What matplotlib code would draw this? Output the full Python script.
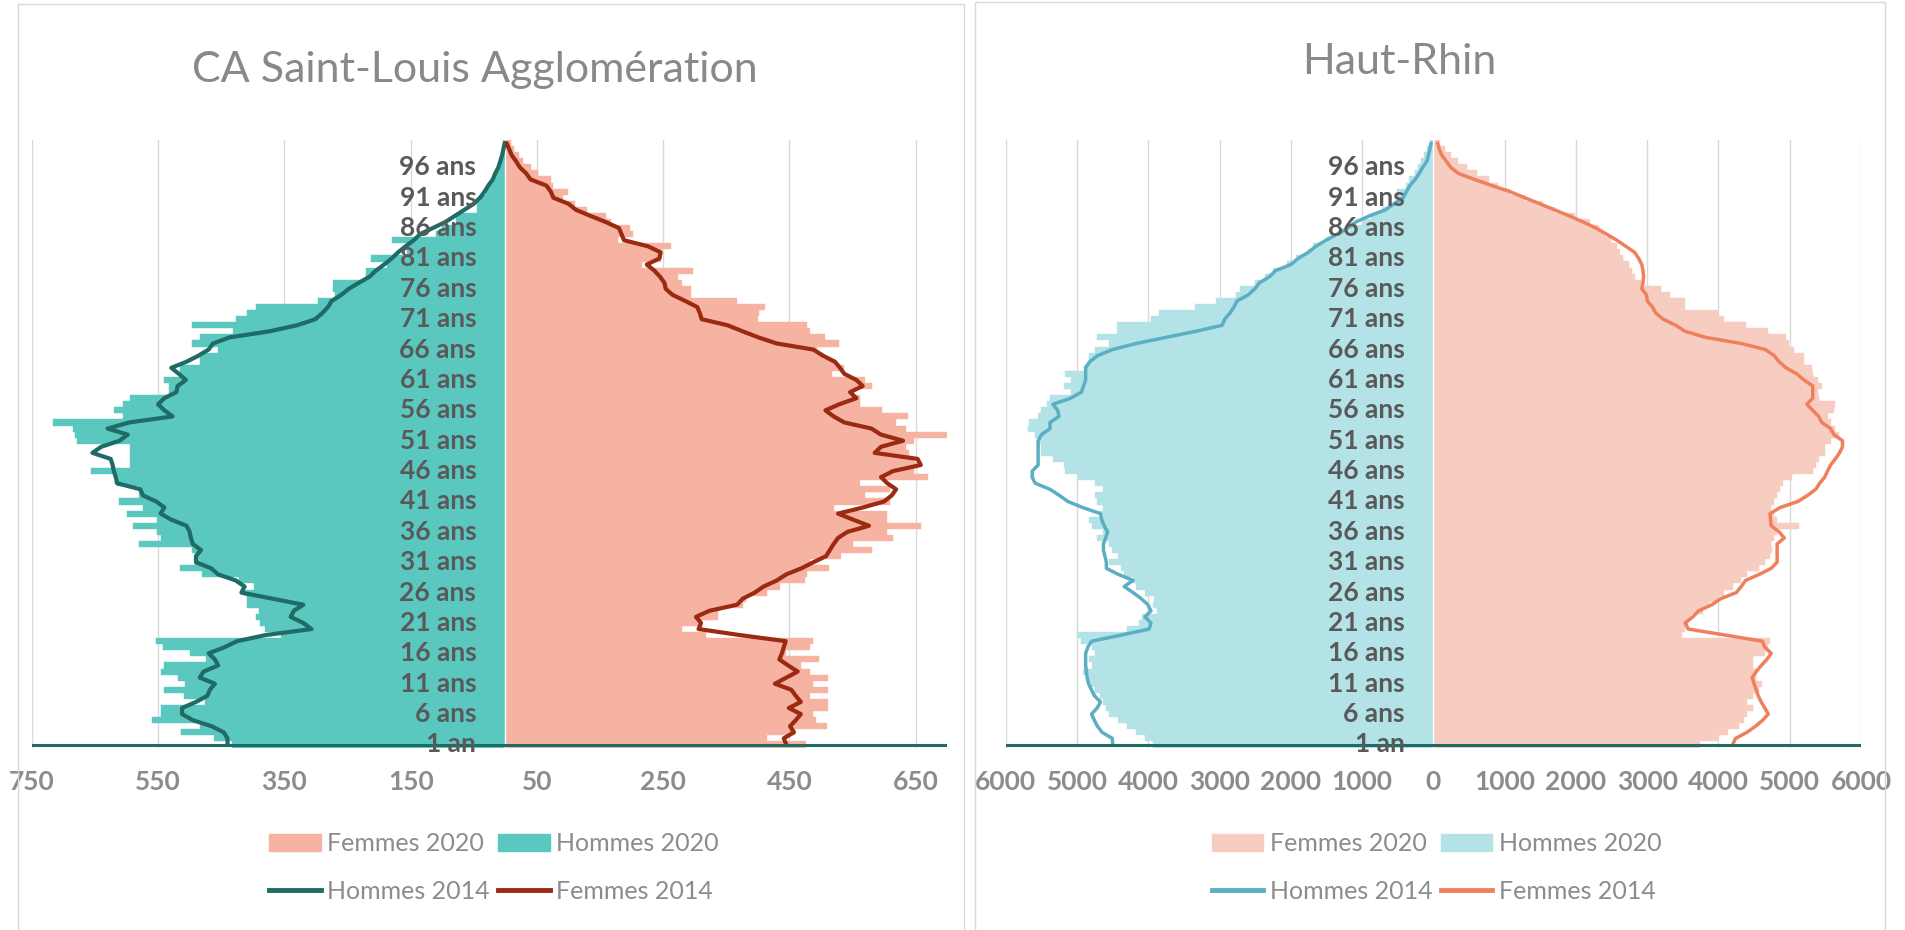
import matplotlib.pyplot as plt
from matplotlib.patches import Rectangle, Patch
from matplotlib.lines import Line2D

plt.rcParams['font.family'] = ['Lato', 'DejaVu Sans']

ages = list(range(1, 101))

# CA Saint-Louis Agglomération
stl_hommes_2020 = [433, 462, 513, 484, 559, 545, 545, 475, 509, 540, 508, 518, 545, 540, 474, 499, 542, 553, 355, 380,
                   388, 395, 390, 409, 409, 412, 398, 422, 480, 516, 492, 492, 497, 581, 546, 552, 589, 552, 599, 574,
                   612, 581, 581, 615, 615, 656, 594, 594, 594, 595, 678, 681, 685, 716, 605, 620, 605, 594, 533, 533,
                   540, 515, 515, 484, 484, 455, 497, 484, 431, 497, 426, 409, 395, 296, 270, 273, 273, 220, 220, 187,
                   213, 155, 155, 180, 110, 100, 78, 78, 45, 45, 38, 30, 28, 20, 15, 12, 10, 7, 5, 4]
stl_femmes_2020 = [476, 415, 458, 509, 492, 487, 511, 511, 483, 511, 487, 511, 483, 468, 497, 444, 483, 487, 318, 280,
                   308, 337, 337, 376, 381, 415, 435, 474, 478, 512, 483, 532, 580, 551, 614, 605, 658, 605, 605, 521,
                   609, 570, 609, 561, 669, 648, 653, 648, 640, 634, 648, 701, 634, 619, 638, 597, 561, 561, 551, 580,
                   570, 517, 537, 522, 503, 493, 529, 507, 483, 478, 400, 401, 411, 367, 294, 294, 280, 273, 297, 217,
                   246, 248, 263, 178, 202, 197, 168, 159, 130, 110, 91, 99, 75, 72, 52, 40, 28, 21, 14, 9]
stl_hommes_2014 = [440, 440, 446, 465, 495, 512, 512, 490, 472, 468, 460, 484, 478, 455, 460, 470, 445, 425, 380, 307,
                   320, 340, 335, 320, 369, 418, 413, 427, 455, 466, 490, 490, 482, 495, 498, 500, 505, 529, 546, 540,
                   553, 574, 578, 615, 617, 620, 622, 625, 654, 640, 611, 598, 630, 596, 527, 540, 550, 540, 521, 519,
                   506, 517, 529, 505, 486, 470, 463, 437, 374, 330, 301, 290, 281, 275, 260, 248, 232, 215, 205, 192,
                   180, 170, 158, 145, 135, 115, 95, 80, 65, 50, 40, 33, 27, 20, 16, 11, 8, 5, 3, 1]
stl_femmes_2014 = [445, 441, 457, 451, 460, 468, 449, 468, 460, 453, 427, 445, 463, 448, 434, 438, 441, 444, 372, 306,
                   310, 302, 323, 367, 376, 395, 409, 430, 445, 469, 488, 508, 514, 520, 527, 542, 576, 551, 527, 566,
                   600, 612, 619, 605, 595, 614, 658, 653, 585, 595, 630, 595, 580, 537, 520, 507, 529, 556, 546, 566,
                   556, 537, 530, 522, 503, 488, 430, 401, 376, 352, 311, 308, 304, 285, 265, 254, 252, 245, 236, 224,
                   244, 246, 226, 188, 184, 180, 159, 135, 112, 100, 76, 72, 65, 40, 33, 23, 17, 10, 6, 2]

# Haut-Rhin
hr_hommes_2020 = [3940, 4048, 4173, 4298, 4423, 4548, 4590, 4631, 4673, 4756, 4840, 4840, 4923, 4798, 4840, 4756, 4798,
                  4940, 5006, 4298, 4132, 4090, 3882, 3940, 3923, 4048, 4173, 4215, 4340, 4382, 4548, 4423, 4507, 4548,
                  4715, 4631, 4798, 4840, 4673, 4631, 4715, 4756, 4631, 4756, 4990, 5173, 5190, 5340, 5506, 5506, 5548,
                  5590, 5690, 5673, 5548, 5506, 5423, 5381, 5090, 5190, 5090, 5173, 4900, 4840, 4840, 4756, 4548, 4715,
                  4440, 4440, 3965, 3857, 3340, 3049, 2774, 2716, 2507, 2366, 2257, 2049, 1924, 1758, 1691, 1508, 1341,
                  1175, 1008, 883, 716, 550, 491, 508, 383, 342, 258, 217, 175, 133, 92, 50]
hr_femmes_2020 = [3740, 3990, 4140, 4282, 4365, 4407, 4490, 4407, 4490, 4573, 4615, 4532, 4532, 4490, 4490, 4657, 4698,
                  4723, 3490, 3532, 3574, 3615, 3782, 3865, 3990, 4073, 4198, 4323, 4407, 4573, 4657, 4723, 4757, 4740,
                  4782, 4823, 5131, 4823, 4782, 4740, 4782, 4823, 4865, 4906, 5031, 5323, 5365, 5406, 5490, 5490, 5573,
                  5698, 5640, 5573, 5531, 5615, 5640, 5406, 5390, 5448, 5390, 5323, 5306, 5198, 5198, 5056, 4990, 4948,
                  4698, 4390, 4073, 3990, 3532, 3532, 3324, 3199, 2907, 2824, 2782, 2741, 2657, 2616, 2574, 2491, 2407,
                  2324, 2199, 1991, 1699, 1533, 1283, 1075, 908, 783, 616, 475, 342, 242, 158, 92]
hr_hommes_2014 = [4500, 4507, 4650, 4715, 4760, 4798, 4720, 4673, 4756, 4800, 4840, 4860, 4870, 4881, 4881, 4881, 4850,
                  4798, 4382, 3990, 3965, 4048, 3965, 4007, 4100, 4215, 4340, 4215, 4423, 4590, 4590, 4610, 4631, 4631,
                  4600, 4573, 4620, 4656, 4673, 4923, 5131, 5250, 5381, 5590, 5631, 5631, 5548, 5548, 5548, 5548, 5548,
                  5500, 5381, 5381, 5256, 5273, 5340, 5090, 4940, 4910, 4881, 4881, 4881, 4823, 4715, 4507, 4173, 3757,
                  3340, 2965, 2930, 2857, 2800, 2757, 2600, 2507, 2441, 2300, 2216, 2000, 1900, 1758, 1650, 1508, 1350,
                  1200, 1091, 900, 675, 550, 425, 380, 330, 258, 200, 150, 92, 70, 50, 33]
hr_femmes_2014 = [4200, 4240, 4400, 4520, 4620, 4698, 4650, 4600, 4557, 4530, 4500, 4473, 4530, 4600, 4680, 4740, 4650,
                  4615, 4100, 3574, 3532, 3640, 3720, 3907, 4032, 4250, 4320, 4380, 4573, 4740, 4823, 4823, 4823, 4823,
                  4923, 4850, 4740, 4730, 4723, 4865, 5115, 5250, 5365, 5420, 5490, 5530, 5573, 5640, 5698, 5740, 5740,
                  5620, 5573, 5450, 5406, 5323, 5240, 5323, 5323, 5323, 5200, 5100, 4948, 4850, 4782, 4657, 4323, 3824,
                  3532, 3400, 3224, 3120, 3074, 3000, 2990, 2924, 2940, 2949, 2940, 2924, 2880, 2824, 2700, 2574, 2430,
                  2282, 2100, 1908, 1700, 1491, 1280, 1075, 820, 575, 350, 242, 180, 117, 80, 58]

stl_ticks = [-750, -550, -350, -150, 50, 250, 450, 650]
hr_ticks = [-6000, -5000, -4000, -3000, -2000, -1000, 0, 1000, 2000, 3000, 4000, 5000, 6000]

W, H = 1906, 930
fig = plt.figure(figsize=(W / 100, H / 100), dpi=100)

# panel frames
fig.add_artist(Rectangle((18 / W, -0.01), (964 - 18) / W, 1.01 - 4 / H, transform=fig.transFigure,
                         fill=False, edgecolor='#D9D9D9', lw=1))
fig.add_artist(Rectangle((975 / W, -0.01), (1885 - 975) / W, 1.01 - 2 / H, transform=fig.transFigure,
                         fill=False, edgecolor='#D9D9D9', lw=1))


def pyramid(ax, hommes20, femmes20, hommes14, femmes14, cols, xlim, ticks, label_x, lw):
    ax.barh(ages, femmes20, height=1.0, color=cols[0], edgecolor=cols[0], linewidth=0.3, zorder=2)
    ax.barh(ages, [-v for v in hommes20], height=1.0, color=cols[1], edgecolor=cols[1], linewidth=0.3, zorder=2)
    ax.axvline(0, color='white', lw=1, zorder=3)
    ax.plot([-v for v in hommes14], ages, color=cols[2], lw=lw, zorder=4, solid_capstyle='round')
    ax.plot(femmes14, ages, color=cols[3], lw=lw, zorder=4, solid_capstyle='round')
    ax.axhline(0.95, color='#1F6B65', lw=2.2, zorder=5)
    ax.set_xlim(*xlim)
    ax.set_ylim(0.5, 100.5)
    ax.set_xticks(ticks)
    ax.set_xticklabels([str(abs(t)) for t in ticks])
    ax.set_yticks([])
    ax.grid(axis='x', color='#D9D9D9', lw=1)
    ax.set_axisbelow(True)
    for s in ax.spines.values():
        s.set_visible(False)
    ax.tick_params(axis='x', length=0, pad=16, labelsize=19, labelcolor='#8C8C8C')
    for t in ax.get_xticklabels():
        t.set_fontweight('bold')
    for a in range(1, 101, 5):
        txt = '1 an' if a == 1 else f'{a} ans'
        ax.text(label_x, a, txt, ha='right', va='center', fontsize=19, fontweight='bold',
                color='#595959', zorder=6, clip_on=False)


ax1 = fig.add_axes([31.8 / W, 182.5 / H, 915.5 / W, 607.5 / H])
stl_cols = ['#F6B3A1', '#5BC8C0', '#1F6B65', '#9C2A12']
pyramid(ax1, stl_hommes_2020, stl_femmes_2020, stl_hommes_2014, stl_femmes_2014,
        stl_cols, (-750, 700), stl_ticks, -46, 3)

ax2 = fig.add_axes([1005.9 / W, 182.5 / H, 855.1 / W, 607.5 / H])
hr_cols = ['#F8CDC1', '#B3E3E6', '#5BAEC3', '#F0805D']
pyramid(ax2, hr_hommes_2020, hr_femmes_2020, hr_hommes_2014, hr_femmes_2014,
        hr_cols, (-6000, 6000), hr_ticks, -407, 2.5)

fig.text(474.5 / W, 1 - 70 / H, 'CA Saint-Louis Agglomération', ha='center', va='center',
         fontsize=31, color='#898989')
fig.text(1399 / W, 1 - 62 / H, 'Haut-Rhin', ha='center', va='center', fontsize=31, color='#898989')


def add_legend(cols, cx):
    handles = [Patch(color=cols[0]), Line2D([], [], color=cols[2], lw=3.5),
               Patch(color=cols[1]), Line2D([], [], color=cols[3], lw=3.5)]
    labels = ['Femmes 2020', 'Hommes 2014', 'Hommes 2020', 'Femmes 2014']
    leg = fig.legend(handles, labels, ncol=2, loc='center', bbox_to_anchor=(cx, 62.5 / H),
                     frameon=False, fontsize=18, labelcolor='#8C8C8C', handlelength=2.05,
                     handleheight=0.65, handletextpad=0.25, columnspacing=0.35, labelspacing=1.0)
    return leg


add_legend(stl_cols, 494 / W)
add_legend(hr_cols, 1436.7 / W)

fig.savefig('out.png', dpi=100)
